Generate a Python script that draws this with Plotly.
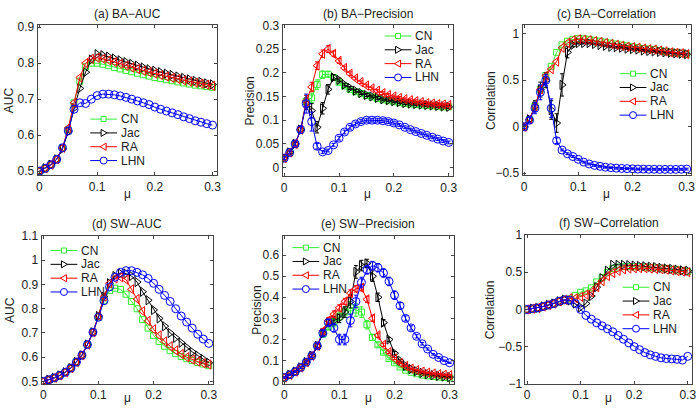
import plotly.graph_objects as go

mu = [0.00, 0.01, 0.02, 0.03, 0.04, 0.05, 0.06, 0.07, 0.08, 0.09, 0.10,
      0.11, 0.12, 0.13, 0.14, 0.15, 0.16, 0.17, 0.18, 0.19, 0.20,
      0.21, 0.22, 0.23, 0.24, 0.25, 0.26, 0.27, 0.28, 0.29, 0.30]

series_names = ["CN", "Jac", "RA", "LHN"]

# (a) BA-AUC
ba_auc_cn = [0.5, 0.508, 0.518, 0.533, 0.565, 0.615, 0.69, 0.75, 0.79, 0.80, 0.80, 0.797, 0.793, 0.788, 0.784, 0.780,
             0.776, 0.772, 0.768, 0.764, 0.760, 0.757, 0.754, 0.751, 0.748, 0.745, 0.742, 0.739, 0.737, 0.735, 0.733]
ba_auc_jac = [0.5, 0.508, 0.518, 0.533, 0.562, 0.61, 0.675, 0.73, 0.775, 0.81, 0.825, 0.822, 0.818, 0.813, 0.808, 0.803,
              0.798, 0.793, 0.788, 0.783, 0.779, 0.775, 0.771, 0.767, 0.763, 0.759, 0.755, 0.751, 0.748, 0.744, 0.741]
ba_auc_ra = [0.5, 0.508, 0.518, 0.533, 0.565, 0.62, 0.69, 0.76, 0.80, 0.812, 0.815, 0.812, 0.808, 0.803, 0.798, 0.793,
             0.788, 0.784, 0.779, 0.775, 0.771, 0.767, 0.763, 0.759, 0.756, 0.752, 0.749, 0.746, 0.743, 0.740, 0.737]
ba_auc_lhn = [0.5, 0.508, 0.518, 0.533, 0.565, 0.612, 0.672, 0.69, 0.688, 0.70, 0.71, 0.714, 0.714, 0.712, 0.709, 0.705,
              0.70, 0.695, 0.69, 0.685, 0.678, 0.672, 0.667, 0.662, 0.657, 0.651, 0.646, 0.64, 0.636, 0.632, 0.628]

# (b) BA-Precision
ba_pre_cn = [0.02, 0.032, 0.05, 0.08, 0.14, 0.147, 0.175, 0.196, 0.197, 0.19, 0.18, 0.172, 0.165, 0.16, 0.156, 0.152,
             0.149, 0.146, 0.143, 0.141, 0.139, 0.137, 0.135, 0.134, 0.133, 0.132, 0.131, 0.130, 0.129, 0.128, 0.128]
ba_pre_jac = [0.02, 0.032, 0.05, 0.08, 0.135, 0.12, 0.085, 0.125, 0.165, 0.19, 0.185, 0.175, 0.168, 0.162, 0.157, 0.153,
              0.15, 0.147, 0.144, 0.142, 0.14, 0.138, 0.136, 0.135, 0.134, 0.133, 0.132, 0.131, 0.130, 0.129, 0.128]
ba_pre_ra = [0.02, 0.032, 0.05, 0.08, 0.14, 0.17, 0.215, 0.24, 0.25, 0.24, 0.225, 0.21, 0.198, 0.188, 0.18, 0.173,
             0.167, 0.162, 0.157, 0.153, 0.15, 0.147, 0.144, 0.142, 0.14, 0.138, 0.136, 0.135, 0.134, 0.133, 0.132]
ba_pre_lhn = [0.02, 0.032, 0.05, 0.08, 0.135, 0.097, 0.045, 0.033, 0.036, 0.048, 0.062, 0.075, 0.085, 0.092, 0.097, 0.10,
              0.10, 0.10, 0.099, 0.097, 0.094, 0.09, 0.085, 0.08, 0.076, 0.072, 0.068, 0.064, 0.06, 0.056, 0.053]
ba_pre_err_cn = [0.003, 0.003, 0.004, 0.006, 0.012, 0.01, 0.01, 0.008, 0.006, 0.005, 0.004, 0.003, 0.003, 0.003, 0.003, 0.003,
                 0.003, 0.003, 0.003, 0.003, 0.003, 0.003, 0.003, 0.003, 0.003, 0.003, 0.003, 0.003, 0.003, 0.003, 0.003]
ba_pre_err_jac = [0.003, 0.003, 0.004, 0.006, 0.012, 0.015, 0.012, 0.012, 0.01, 0.006, 0.004, 0.003, 0.003, 0.003, 0.003, 0.003,
                  0.003, 0.003, 0.003, 0.003, 0.003, 0.003, 0.003, 0.003, 0.003, 0.003, 0.003, 0.003, 0.003, 0.003, 0.003]
ba_pre_err_ra = [0.003, 0.003, 0.004, 0.006, 0.012, 0.01, 0.008, 0.008, 0.007, 0.006, 0.005, 0.004, 0.004, 0.003, 0.003, 0.003,
                 0.003, 0.003, 0.003, 0.003, 0.003, 0.003, 0.003, 0.003, 0.003, 0.003, 0.003, 0.003, 0.003, 0.003, 0.003]
ba_pre_err_lhn = [0.003, 0.003, 0.004, 0.008, 0.02, 0.02, 0.006, 0.003, 0.003, 0.003, 0.004, 0.004, 0.004, 0.004, 0.004, 0.004,
                  0.004, 0.004, 0.004, 0.004, 0.004, 0.003, 0.003, 0.003, 0.003, 0.003, 0.003, 0.003, 0.003, 0.003, 0.003]

# (c) BA-Correlation
ba_cor_cn = [0.0, 0.08, 0.22, 0.4, 0.55, 0.65, 0.8, 0.88, 0.92, 0.94, 0.95, 0.945, 0.94, 0.93, 0.92, 0.91,
             0.9, 0.89, 0.88, 0.87, 0.86, 0.85, 0.84, 0.835, 0.83, 0.82, 0.81, 0.80, 0.795, 0.79, 0.78]
ba_cor_jac = [0.0, 0.08, 0.22, 0.4, 0.5, 0.18, 0.04, 0.45, 0.8, 0.88, 0.9, 0.9, 0.9, 0.89, 0.88, 0.87,
              0.86, 0.855, 0.85, 0.84, 0.835, 0.83, 0.82, 0.815, 0.81, 0.805, 0.80, 0.795, 0.79, 0.785, 0.78]
ba_cor_ra = [0.0, 0.08, 0.22, 0.4, 0.55, 0.62, 0.7, 0.85, 0.9, 0.93, 0.94, 0.935, 0.93, 0.92, 0.91, 0.9,
             0.89, 0.88, 0.87, 0.86, 0.855, 0.85, 0.84, 0.835, 0.83, 0.82, 0.81, 0.80, 0.795, 0.79, 0.78]
ba_cor_lhn = [0.0, 0.07, 0.2, 0.37, 0.5, 0.2, -0.15, -0.25, -0.29, -0.32, -0.35, -0.38, -0.40, -0.415, -0.425, -0.435,
              -0.44, -0.445, -0.448, -0.45, -0.452, -0.455, -0.455, -0.457, -0.457, -0.458, -0.458, -0.458, -0.458, -0.457, -0.455]
ba_cor_err_jac = [0.02, 0.03, 0.06, 0.08, 0.08, 0.1, 0.1, 0.12, 0.06, 0.02, 0.01, 0.01, 0.01, 0.01, 0.01, 0.01,
                  0.01, 0.01, 0.01, 0.01, 0.01, 0.01, 0.01, 0.01, 0.01, 0.01, 0.01, 0.01, 0.01, 0.01, 0.01]
ba_cor_err_lhn = [0.02, 0.03, 0.06, 0.08, 0.06, 0.1, 0.03, 0.01, 0.01, 0.01, 0.01, 0.01, 0.01, 0.01, 0.01, 0.01,
                  0.01, 0.01, 0.01, 0.01, 0.01, 0.01, 0.01, 0.01, 0.01, 0.01, 0.01, 0.01, 0.01, 0.01, 0.01]

# (d) SW-AUC
sw_auc_cn = [0.5, 0.507, 0.515, 0.525, 0.538, 0.555, 0.58, 0.608, 0.652, 0.703, 0.765, 0.835, 0.875, 0.885, 0.88, 0.86,
             0.83, 0.8, 0.755, 0.72, 0.69, 0.665, 0.645, 0.628, 0.615, 0.603, 0.594, 0.586, 0.578, 0.572, 0.565]
sw_auc_jac = [0.5, 0.507, 0.515, 0.525, 0.538, 0.555, 0.58, 0.608, 0.652, 0.703, 0.77, 0.85, 0.905, 0.935, 0.945, 0.945,
              0.935, 0.91, 0.87, 0.835, 0.795, 0.76, 0.728, 0.70, 0.68, 0.66, 0.64, 0.622, 0.607, 0.592, 0.577]
sw_auc_ra = [0.5, 0.507, 0.515, 0.525, 0.538, 0.555, 0.58, 0.608, 0.652, 0.703, 0.77, 0.85, 0.905, 0.925, 0.93, 0.92,
             0.88, 0.84, 0.79, 0.75, 0.715, 0.69, 0.665, 0.645, 0.628, 0.613, 0.6, 0.59, 0.582, 0.575, 0.57]
sw_auc_lhn = [0.5, 0.507, 0.515, 0.525, 0.538, 0.555, 0.58, 0.608, 0.652, 0.703, 0.765, 0.833, 0.89, 0.93, 0.95, 0.957,
              0.957, 0.95, 0.94, 0.925, 0.905, 0.88, 0.855, 0.83, 0.8, 0.77, 0.745, 0.72, 0.695, 0.675, 0.657]

# (e) SW-Precision
sw_pre_cn = [0.02, 0.033, 0.048, 0.068, 0.093, 0.123, 0.17, 0.225, 0.26, 0.28, 0.31, 0.33, 0.35, 0.34, 0.33, 0.27,
             0.21, 0.175, 0.14, 0.11, 0.09, 0.07, 0.055, 0.045, 0.038, 0.032, 0.028, 0.025, 0.022, 0.02, 0.018]
sw_pre_jac = [0.02, 0.033, 0.048, 0.068, 0.093, 0.123, 0.17, 0.23, 0.28, 0.29, 0.3, 0.33, 0.38, 0.52, 0.55, 0.56,
              0.5, 0.4, 0.28, 0.2, 0.135, 0.1, 0.075, 0.06, 0.05, 0.042, 0.036, 0.031, 0.028, 0.025, 0.022]
sw_pre_ra = [0.02, 0.033, 0.048, 0.068, 0.093, 0.123, 0.17, 0.24, 0.29, 0.32, 0.35, 0.38, 0.42, 0.44, 0.445, 0.39,
             0.3, 0.22, 0.175, 0.14, 0.11, 0.09, 0.075, 0.062, 0.055, 0.048, 0.043, 0.039, 0.036, 0.033, 0.031]
sw_pre_lhn = [0.02, 0.033, 0.048, 0.068, 0.093, 0.123, 0.17, 0.23, 0.28, 0.255, 0.2, 0.2, 0.29, 0.38, 0.47, 0.53,
              0.55, 0.54, 0.515, 0.475, 0.41, 0.36, 0.3, 0.255, 0.215, 0.18, 0.155, 0.13, 0.115, 0.1, 0.09]
sw_pre_err_cn = [0.003, 0.003, 0.004, 0.005, 0.006, 0.008, 0.01, 0.012, 0.015, 0.02, 0.02, 0.025, 0.03, 0.03, 0.025, 0.02,
                 0.015, 0.01, 0.008, 0.006, 0.005, 0.004, 0.003, 0.003, 0.003, 0.003, 0.003, 0.003, 0.003, 0.003, 0.003]
sw_pre_err_jac = [0.003, 0.003, 0.004, 0.005, 0.006, 0.008, 0.01, 0.012, 0.015, 0.02, 0.02, 0.025, 0.03, 0.03, 0.025, 0.02,
                  0.025, 0.02, 0.015, 0.01, 0.008, 0.006, 0.005, 0.004, 0.003, 0.003, 0.003, 0.003, 0.003, 0.003, 0.003]
sw_pre_err_ra = [0.003, 0.003, 0.004, 0.005, 0.006, 0.008, 0.01, 0.012, 0.015, 0.015, 0.015, 0.015, 0.015, 0.015, 0.015, 0.015,
                 0.015, 0.01, 0.008, 0.006, 0.005, 0.004, 0.003, 0.003, 0.003, 0.003, 0.003, 0.003, 0.003, 0.003, 0.003]
sw_pre_err_lhn = [0.003, 0.003, 0.004, 0.005, 0.006, 0.008, 0.01, 0.012, 0.015, 0.02, 0.025, 0.025, 0.03, 0.03, 0.025, 0.02,
                  0.02, 0.02, 0.02, 0.02, 0.02, 0.015, 0.012, 0.01, 0.008, 0.006, 0.005, 0.004, 0.004, 0.003, 0.003]

# (f) SW-Correlation
sw_cor_cn = [0.0, 0.01, 0.02, 0.04, 0.06, 0.08, 0.11, 0.13, 0.14, 0.19, 0.23, 0.25, 0.29, 0.37, 0.43, 0.5,
             0.55, 0.57, 0.575, 0.575, 0.575, 0.575, 0.57, 0.565, 0.56, 0.555, 0.55, 0.54, 0.53, 0.52, 0.51]
sw_cor_jac = [0.0, 0.01, 0.02, 0.04, 0.06, 0.08, 0.11, 0.13, 0.12, 0.08, 0.03, 0.08, 0.18, 0.3, 0.42, 0.52,
              0.6, 0.6, 0.6, 0.595, 0.59, 0.585, 0.58, 0.575, 0.57, 0.56, 0.55, 0.545, 0.535, 0.525, 0.52]
sw_cor_ra = [0.0, 0.01, 0.02, 0.04, 0.06, 0.08, 0.11, 0.13, 0.15, 0.15, 0.17, 0.2, 0.23, 0.3, 0.38, 0.45,
             0.49, 0.52, 0.54, 0.55, 0.555, 0.555, 0.555, 0.55, 0.545, 0.54, 0.535, 0.525, 0.515, 0.51, 0.5]
sw_cor_lhn = [0.0, 0.01, 0.02, 0.04, 0.06, 0.08, 0.11, 0.13, 0.125, 0.08, 0.0, -0.08, -0.13, -0.18, -0.22, -0.26,
              -0.3, -0.35, -0.4, -0.45, -0.5, -0.54, -0.58, -0.61, -0.63, -0.65, -0.66, -0.665, -0.67, -0.68, -0.63]

panel_titles = ["(a) BA\u2212AUC", "(b) BA\u2212Precision", "(c) BA\u2212Correlation",
                "(d) SW\u2212AUC", "(e) SW\u2212Precision", "(f) SW\u2212Correlation"]
y_titles = ["AUC", "Precision", "Correlation", "AUC", "Precision", "Correlation"]
x_ticks = [0, 0.1, 0.2, 0.3]
y_ticks = [
    [0.5, 0.6, 0.7, 0.8, 0.9],
    [0, 0.05, 0.1, 0.15, 0.2, 0.25, 0.3],
    [-0.5, 0, 0.5, 1],
    [0.5, 0.6, 0.7, 0.8, 0.9, 1, 1.1],
    [0, 0.1, 0.2, 0.3, 0.4, 0.5, 0.6],
    [-1, -0.5, 0, 0.5, 1],
]
y_ranges = [[0.489, 0.905], [-0.018, 0.3], [-0.52, 1.09], [0.49, 1.1], [-0.01, 0.69], [-1.0, 1.0]]

panels = [
    [ba_auc_cn, ba_auc_jac, ba_auc_ra, ba_auc_lhn],
    [ba_pre_cn, ba_pre_jac, ba_pre_ra, ba_pre_lhn],
    [ba_cor_cn, ba_cor_jac, ba_cor_ra, ba_cor_lhn],
    [sw_auc_cn, sw_auc_jac, sw_auc_ra, sw_auc_lhn],
    [sw_pre_cn, sw_pre_jac, sw_pre_ra, sw_pre_lhn],
    [sw_cor_cn, sw_cor_jac, sw_cor_ra, sw_cor_lhn],
]
panel_errors = [
    [None, None, None, None],
    [ba_pre_err_cn, ba_pre_err_jac, ba_pre_err_ra, ba_pre_err_lhn],
    [None, ba_cor_err_jac, None, ba_cor_err_lhn],
    [None, None, None, None],
    [sw_pre_err_cn, sw_pre_err_jac, sw_pre_err_ra, sw_pre_err_lhn],
    [None, None, None, None],
]

colors = ["#33ee33", "#000000", "#ff0000", "#0000ff"]
symbols = ["square-open", "triangle-right-open", "triangle-left-open", "circle-open"]
msizes = [6, 8, 8, 8]

W, H = 700, 416
# pixel boxes of each panel: (left, right, top, bottom)
boxes = [(36, 217, 19, 174), (283, 455, 19, 175), (525, 695, 19, 174),
         (40, 213, 237, 390), (283, 456, 237, 390), (528, 696, 236, 390)]
# legend: (line start x, first row y) in pixels, rows ~14 px apart
legend_pos = [(89, 116), (386, 30), (623, 69), (49, 252), (293, 249), (626, 290)]
ytitle_x = [7, 250, 493, 8, 257, 493]
mu_offset = [19, 19, 19, 15, 15, 15]
LEG_LINE = 27
ROW = 14.3

FONT = "Liberation Sans, Arial, Helvetica, sans-serif"
FS = 12

fig = go.Figure()
annotations = []
shapes = []
layout = dict(width=W, height=H, margin=dict(l=0, r=0, t=0, b=0),
              paper_bgcolor="white", plot_bgcolor="white", showlegend=False,
              font=dict(family=FONT, size=FS, color="#222222"))

for p in range(6):
    sfx = "" if p == 0 else str(p + 1)
    for s in range(4):
        err = panel_errors[p][s]
        fig.add_trace(go.Scatter(
            x=mu, y=panels[p][s], name=series_names[s], mode="lines+markers",
            line=dict(color=colors[s], width=1),
            marker=dict(symbol=symbols[s], size=msizes[s], color=colors[s], line=dict(width=1, color=colors[s])),
            error_y=dict(type="data", array=err, visible=True, color=colors[s], thickness=1, width=2) if err else None,
            xaxis="x" + sfx, yaxis="y" + sfx))
    l, r, t, b = boxes[p]
    layout["xaxis" + sfx] = dict(
        domain=[l / W, r / W], anchor="y" + sfx, range=[-0.003, 0.308],
        tickvals=x_ticks, ticktext=["0", "0.1", "0.2", "0.3"], ticklabeloverflow="allow",
        ticks="inside", ticklen=3, tickcolor="#444", showline=True, linecolor="#444", linewidth=1,
        mirror="ticks", showgrid=False, zeroline=False, tickfont=dict(size=FS))
    layout["yaxis" + sfx] = dict(
        domain=[1 - b / H, 1 - t / H], anchor="x" + sfx, range=y_ranges[p],
        tickvals=y_ticks[p], ticktext=[("%g" % v).replace("-", "\u2212") for v in y_ticks[p]],
        ticklabeloverflow="allow",
        ticks="inside", ticklen=3, tickcolor="#444", showline=True, linecolor="#444", linewidth=1,
        mirror="ticks", showgrid=False, zeroline=False, tickfont=dict(size=FS))
    # panel title
    annotations.append(dict(text=panel_titles[p], x=(l + r) / 2 / W, y=1 - (t - 12) / H, xref="paper", yref="paper",
                            xanchor="center", yanchor="middle", showarrow=False, font=dict(size=FS)))
    # axis titles
    annotations.append(dict(text="\u03bc", x=(l + r) / 2 / W, y=1 - (b + mu_offset[p]) / H, xref="paper", yref="paper",
                            xanchor="center", yanchor="middle", showarrow=False, font=dict(size=FS)))
    annotations.append(dict(text=y_titles[p], x=ytitle_x[p] / W, y=1 - (t + b) / 2 / H, xref="paper", yref="paper",
                            xanchor="center", yanchor="middle", textangle=-90, showarrow=False, font=dict(size=FS)))
    # legend
    lx, ly = legend_pos[p]
    for s in range(4):
        yy = 1 - (ly + ROW * s) / H
        xc = (lx + LEG_LINE / 2) / W
        shapes.append(dict(type="line", xref="paper", yref="paper", x0=lx / W, x1=(lx + LEG_LINE) / W,
                           y0=yy, y1=yy, line=dict(color=colors[s], width=1)))
        glyph = dict(xref="paper", yref="paper", xsizemode="pixel", ysizemode="pixel",
                     xanchor=xc, yanchor=yy, fillcolor="white", line=dict(color=colors[s], width=1))
        if s == 0:
            glyph.update(type="rect", x0=-2.5, x1=2.5, y0=-2.5, y1=2.5)
        elif s == 1:
            glyph.update(type="path", path="M-2.5,-3.5 L3.5,0 L-2.5,3.5 Z")
        elif s == 2:
            glyph.update(type="path", path="M2.5,-3.5 L-3.5,0 L2.5,3.5 Z")
        else:
            glyph.update(type="circle", x0=-3.5, x1=3.5, y0=-3.5, y1=3.5)
        shapes.append(glyph)
        annotations.append(dict(text=series_names[s], x=(lx + LEG_LINE + 2) / W, y=yy, xref="paper", yref="paper",
                                xanchor="left", yanchor="middle", showarrow=False, font=dict(size=FS, color="#222")))

layout["annotations"] = annotations
layout["shapes"] = shapes
fig.update_layout(**layout)
fig.write_html("out.html", config={"displayModeBar": False},
               post_script="document.body.style.margin='0';document.body.style.padding='0';")
